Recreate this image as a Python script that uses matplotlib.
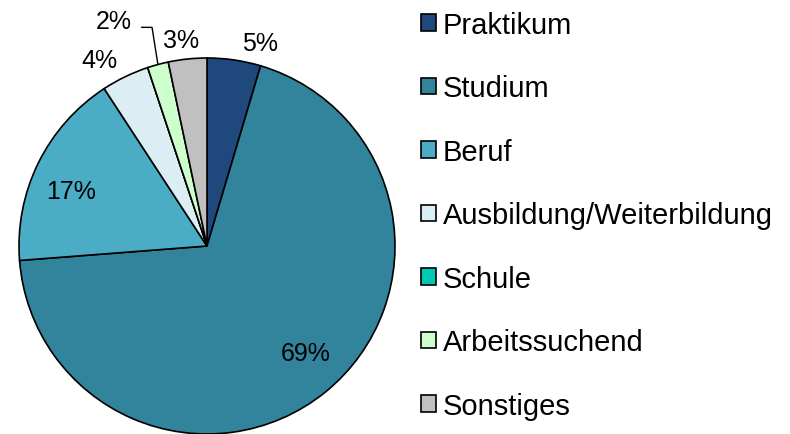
import numpy as np
import matplotlib.pyplot as plt
from matplotlib.patches import Patch

plt.rcParams['font.family'] = ['Liberation Sans', 'DejaVu Sans']

categories = ['Praktikum', 'Studium', 'Beruf', 'Ausbildung/Weiterbildung',
              'Schule', 'Arbeitssuchend', 'Sonstiges']
shares = [4.6, 69.1, 17.0, 4.1, 0.0, 1.8, 3.3]
labels = ['5%', '69%', '17%', '4%', '', '2%', '3%']
colors = ['#1F497D', '#31849B', '#4BACC6', '#DBEEF4', '#00C8B4', '#CCFFCC', '#C0C0C0']

# label placement: radius factor and angular nudge (deg, ccw) from slice middle
label_r = [1.117, 0.775, 0.78, 1.142, 1.0, 1.26, 1.104]
label_dang = [-6.3, 3.7, 4.0, 4.4, 0.0, 0.0, 1.3]

fig = plt.figure(figsize=(7.9, 4.35), dpi=100)
ax = fig.add_axes([19 / 790, 0.0, 376 / 790, 376 / 435])

wedges, _ = ax.pie(shares, colors=colors, startangle=90, counterclock=False,
                   wedgeprops=dict(edgecolor='black', linewidth=1.2))
ax.set_xlim(-1, 1)
ax.set_ylim(-1, 1)
ax.set_aspect('equal')

for w, lab, r, da in zip(wedges, labels, label_r, label_dang):
    if not lab:
        continue
    mid = (w.theta1 + w.theta2) / 2
    if lab == '2%':
        # small slice: label placed above with a leader line
        t = np.deg2rad(mid)
        ax.annotate(lab, xy=(np.cos(t), np.sin(t)), xytext=(-0.40, 1.195),
                    ha='right', va='center', fontsize=18,
                    arrowprops=dict(arrowstyle='-', color='black', lw=1,
                                    connectionstyle='angle,angleA=0,angleB=99,rad=0',
                                    shrinkA=5, shrinkB=0, relpos=(1.0, 0.25)),
                    annotation_clip=False)
        continue
    t = np.deg2rad(mid + da)
    ax.text(r * np.cos(t), r * np.sin(t), lab, ha='center', va='center', fontsize=18)

handles = [Patch(facecolor=c, edgecolor='black', linewidth=1.2) for c in colors]
leg = fig.legend(handles, categories, loc='upper left',
                 bbox_to_anchor=(421 / 790, 1.0 - 12 / 435),
                 frameon=False, fontsize=21, handlelength=0.5, handleheight=0.5,
                 handletextpad=0.24, labelspacing=1.215, borderaxespad=0,
                 borderpad=0)

plt.savefig('out.png', dpi=100)
